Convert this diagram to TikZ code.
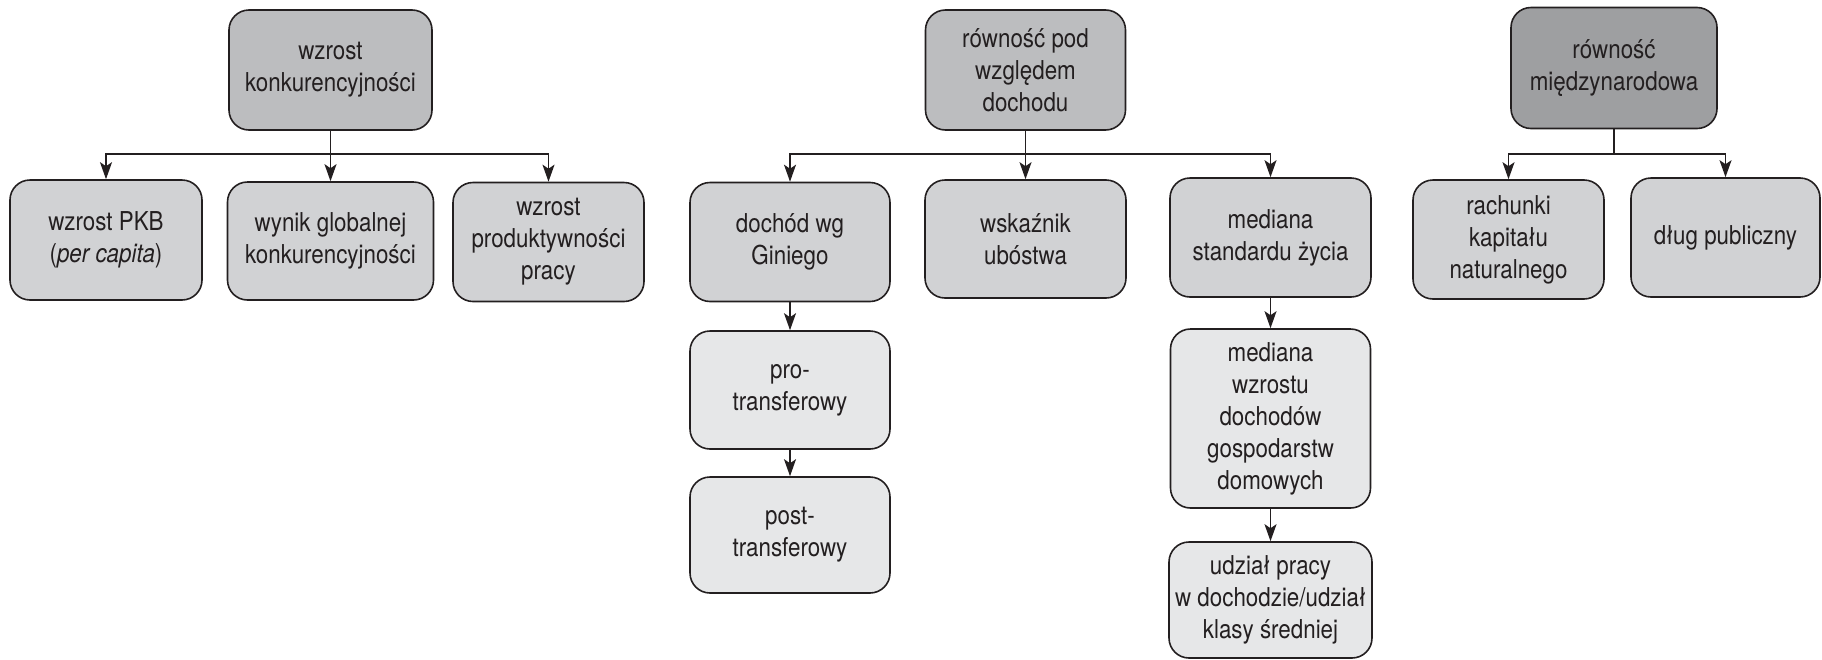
\documentclass[tikz,border=0pt]{standalone}
\usepackage{fontspec}
\setmainfont{TeX Gyre Heros}[FakeStretch=0.86]
\usetikzlibrary{arrows.meta}
\definecolor{topgray}{RGB}{188,189,191}
\definecolor{darkgray}{RGB}{158,159,161}
\definecolor{midgray}{RGB}{209,210,212}
\definecolor{lightgray}{RGB}{230,231,232}
\definecolor{ink}{RGB}{35,31,32}
\tikzset{
  box/.style={draw=ink, line width=1.6pt, rounded corners=20pt, align=center,
    inner sep=2pt, font=\fontsize{26}{32}\selectfont, text=ink},
  lvlA/.style={box, fill=topgray},
  lvlG/.style={box, fill=darkgray},
  lvlB/.style={box, fill=midgray},
  lvlC/.style={box, fill=lightgray},
  arr/.style={draw=ink, line width=1.5pt, -{Stealth[length=17pt,width=12pt,inset=4pt]}},
  ln/.style={draw=ink, line width=1.5pt}
}
\begin{document}
\begin{tikzpicture}[x=1pt,y=-1pt]
\useasboundingbox (0,0) rectangle (1822,659);
% left group
\node[lvlA, minimum width=203, minimum height=120] (A) at (330.5,70) {wzrost\\konkurencyjności};
\node[lvlB, minimum width=192, minimum height=120] (B1) at (106,240) {wzrost PKB\\(\textit{per capita})};
\node[lvlB, minimum width=206, minimum height=118] (B2) at (330.5,241) {wynik globalnej\\konkurencyjności};
\node[lvlB, minimum width=191, minimum height=119] (B3) at (548.5,242) {wzrost\\produktywności\\pracy};
\coordinate (jA) at (330.5,154);
\draw[ln] (A.south) -- (jA);
\draw[arr] (jA) -| (B1.north);
\draw[arr] (jA) -| (B3.north);
\draw[arr] (jA) -- (B2.north);
% middle group
\node[lvlA, minimum width=200, minimum height=120] (C) at (1025.5,70) {równość pod\\względem\\dochodu};
\node[lvlB, minimum width=200, minimum height=119] (D1) at (790,242) {dochód wg\\Giniego};
\node[lvlB, minimum width=201, minimum height=118] (D2) at (1025.5,239) {wskaźnik\\ubóstwa};
\node[lvlB, minimum width=201, minimum height=119] (D3) at (1270.5,237.5) {mediana\\standardu życia};
\node[lvlC, minimum width=200, minimum height=118] (E1) at (790,390) {pro-\\transferowy};
\node[lvlC, minimum width=200, minimum height=116] (E2) at (790,535) {post-\\transferowy};
\node[lvlC, minimum width=200, minimum height=179] (F1) at (1270.5,418.5) {mediana\\wzrostu\\dochodów\\gospodarstw\\domowych};
\node[lvlC, minimum width=203, minimum height=116] (F2) at (1270.5,600) {udział pracy\\w dochodzie/udział\\klasy średniej};
\coordinate (jC) at (1025.5,154);
\draw[ln] (C.south) -- (jC);
\draw[arr] (jC) -| (D1.north);
\draw[arr] (jC) -| (D3.north);
\draw[arr] (jC) -- (D2.north);
\draw[arr] (D1.south) -- (E1.north);
\draw[arr] (E1.south) -- (E2.north);
\draw[arr] (D3.south) -- (F1.north);
\draw[arr] (F1.south) -- (F2.north);
% right group
\node[lvlG, minimum width=206, minimum height=121] (G) at (1614,68) {równość\\międzynarodowa};
\node[lvlB, minimum width=191, minimum height=119] (H1) at (1508.5,239.5) {rachunki\\kapitału\\naturalnego};
\node[lvlB, minimum width=189, minimum height=119] (H2) at (1725.5,237.5) {dług publiczny};
\coordinate (jG) at (1614,154);
\draw[ln] (G.south) -- (jG);
\draw[arr] (jG) -| (H1.north);
\draw[arr] (jG) -| (H2.north);
\end{tikzpicture}
\end{document}
